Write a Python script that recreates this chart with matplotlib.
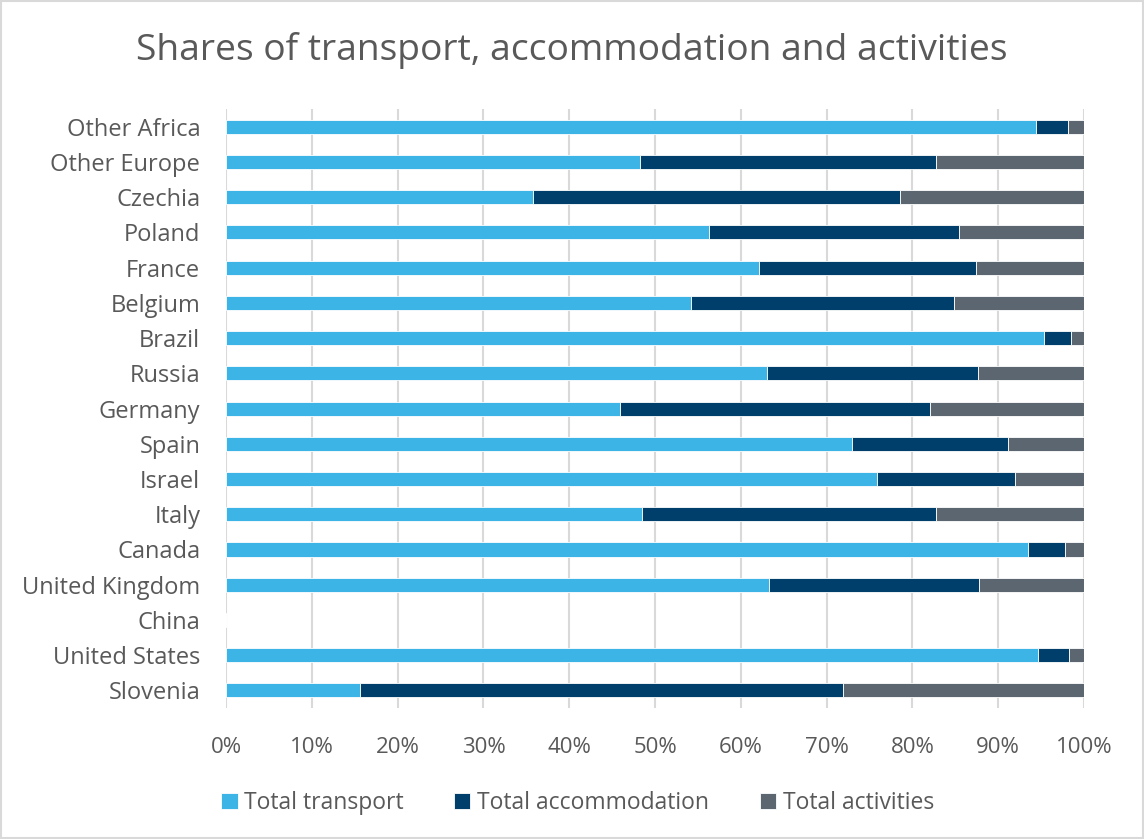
import matplotlib.pyplot as plt
import numpy as np
from matplotlib.patches import Rectangle

plt.rcParams['font.family'] = ['Open Sans', 'DejaVu Sans']

# Countries, bottom to top
countries = ['Slovenia', 'United States', 'China', 'United Kingdom', 'Canada', 'Italy', 'Israel',
             'Spain', 'Germany', 'Russia', 'Brazil', 'Belgium', 'France', 'Poland', 'Czechia',
             'Other Europe', 'Other Africa']

# Shares in %
transport = [15.6, 94.6, 0, 63.3, 93.5, 48.5, 75.9, 73.0, 45.9, 63.1, 95.3, 54.2, 62.1, 56.3, 35.8, 48.3, 94.4]
accommodation = [56.3, 3.7, 0, 24.5, 4.3, 34.3, 16.1, 18.1, 36.2, 24.5, 3.2, 30.6, 25.3, 29.1, 42.8, 34.5, 3.7]
activities = [28.1, 1.7, 0, 12.2, 2.2, 17.2, 8.0, 8.9, 17.9, 12.4, 1.5, 15.2, 12.6, 14.6, 21.4, 17.2, 1.9]

colors = ['#3cb4e5', '#003f6b', '#5b6670']
text_color = '#595959'

fig = plt.figure(figsize=(11.44, 8.39), dpi=100)
ax = fig.add_axes([0.1976, 0.1561, 0.75, 0.7139])

y = np.arange(len(countries))
left = np.zeros(len(countries))
series = [('Total transport', transport), ('Total accommodation', accommodation), ('Total activities', activities)]
for (name, vals), c in zip(series, colors):
    vals = np.array(vals)
    ax.barh(y, vals, left=left, height=0.4, color=c, edgecolor='white', linewidth=0.6, label=name)
    left += vals

ax.set_xlim(0, 100)
ax.set_ylim(-0.5, len(countries) - 0.5)
ax.set_xticks(np.arange(0, 101, 10))
ax.set_xticklabels([f'{v}%' for v in range(0, 101, 10)])
ax.set_yticks(y)
ax.set_yticklabels(countries)
ax.tick_params(axis='both', length=0, colors=text_color)
ax.tick_params(axis='x', pad=21, labelsize=16)
ax.tick_params(axis='y', pad=18.5, labelsize=17)
ax.grid(axis='x', color='#d9d9d9', linewidth=1.5)
ax.set_axisbelow(True)
for s in ax.spines.values():
    s.set_visible(False)

fig.suptitle('Shares of transport, accommodation and activities', fontsize=26.8, color=text_color, y=0.962)

leg = fig.legend(loc='center', bbox_to_anchor=(0.505, 0.043), ncol=3, frameon=False, fontsize=16.5,
                 handlelength=0.7, handleheight=0.7, handletextpad=0.3, columnspacing=2.2)
for t in leg.get_texts():
    t.set_color(text_color)

fig.patches.append(Rectangle((0.001, 0.001), 0.998, 0.998, transform=fig.transFigure,
                             fill=False, edgecolor='#d9d9d9', linewidth=1.5))

plt.savefig('out.png', dpi=100)
